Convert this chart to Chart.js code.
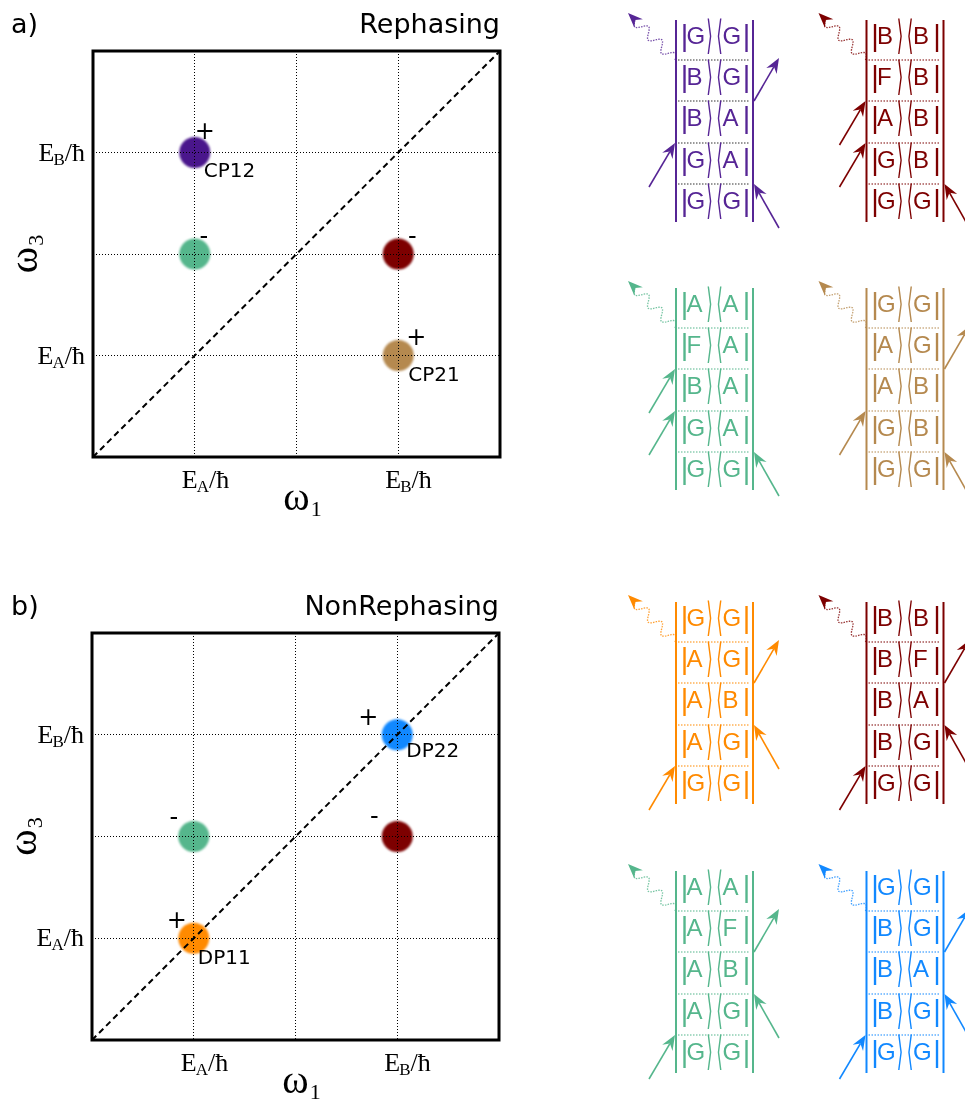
<!DOCTYPE html>
<html><head><meta charset="utf-8">
<script src="https://cdn.jsdelivr.net/npm/chart.js@4.4.1/dist/chart.umd.min.js"></script>
<style>
html,body{margin:0;padding:0;background:#fff;width:965px;height:1099px;overflow:hidden;position:relative}
#ca{position:absolute;left:0;top:0}
#cb{position:absolute;left:0;top:580px}
#diag{position:absolute;left:0;top:0}
</style></head><body>
<canvas id="ca" width="520" height="519"></canvas>
<canvas id="cb" width="520" height="519"></canvas>
<svg id="diag" width="965" height="1099" xmlns="http://www.w3.org/2000/svg"></svg>
<script>
// ---------------- DATA ----------------
const axisMin = 0, axisMax = 4;
const gridValues = [1, 2, 3];
const tickValues = [1, 3];
const tickMain = ['E', 'E'];
const tickSub = ['A', 'B'];
const tickTail = ['/ħ', '/ħ'];
const xTitle = ['ω', '1'];
const yTitle = ['ω', '3'];
const diagonalX = [0, 4];
const diagonalY = [0, 4];

const rephasingX = [1, 1, 3, 3];
const rephasingY = [3, 2, 2, 1];
const rephasingSign = ['+', '-', '-', '+'];
const rephasingName = ['CP12', '', '', 'CP21'];

const nonRephasingX = [3, 1, 3, 1];
const nonRephasingY = [3, 2, 2, 1];
const nonRephasingSign = ['+', '-', '-', '+'];
const nonRephasingName = ['DP22', '', '', 'DP11'];

// Double-sided Feynman diagrams: rows top -> bottom, [ket, bra]
const diagramStates = [
  [['G','G'],['B','G'],['B','A'],['G','A'],['G','G']],
  [['B','B'],['F','B'],['A','B'],['G','B'],['G','G']],
  [['A','A'],['F','A'],['B','A'],['G','A'],['G','G']],
  [['G','G'],['A','G'],['A','B'],['G','B'],['G','G']],
  [['G','G'],['A','G'],['A','B'],['A','G'],['G','G']],
  [['B','B'],['B','F'],['B','A'],['B','G'],['G','G']],
  [['A','A'],['A','F'],['A','B'],['A','G'],['G','G']],
  [['G','G'],['B','G'],['B','A'],['B','G'],['G','G']]
];
// interaction positions given as separator index (0..3)
const diagramLeftIn  = [[2],[1,2],[1,2],[2],[3],[3],[3],[3]];
const diagramRightOut = [[1],[],[],[1],[1],[1],[1],[1]];
const diagramRightIn  = [[3],[3],[3],[3],[2],[2],[2],[2]];

// ---------------- STYLE ----------------
const C = {purple:'#4a168c', green:'#55b68c', darkred:'#7d0000', tan:'#b5894f', orange:'#ff8a00', blue:'#1188ff'};
const rephasingColors = [C.purple, C.green, C.darkred, C.tan];
const nonRephasingColors = [C.blue, C.green, C.darkred, C.orange];
const rephasingSignOff = [[10,-22],[9,-16],[14,-16],[18,-19]];
const rephasingNameOff = [[9,24],null,null,[10,25]];
const nonRephasingSignOff = [[-29,-18],[-20,-18],[-23,-19],[-17,-19]];
const nonRephasingNameOff = [[9,22],null,null,[4,26]];
const diagramColors = ['#562595', C.darkred, C.green, C.tan, C.orange, C.darkred, C.green, C.blue];
const diagramSepColors = ['#333', C.darkred, C.green, C.tan, C.orange, C.darkred, C.green, C.blue];
const diagramX = [676, 866.5, 676, 866.5, 676, 866.5, 676, 866.5];
const diagramY = [20, 20, 288, 288, 602, 602, 871, 871];

const SERIF = '"Liberation Serif", "Times New Roman", serif';
const SANS = '"DejaVu Sans", Verdana, sans-serif';

function drawTickLabel(ctx, main, sub, tail, x, y, align) {
  ctx.font = '26px ' + SERIF;
  const w1 = ctx.measureText(main).width, w3 = ctx.measureText(tail).width;
  ctx.font = '17px ' + SERIF;
  const w2 = ctx.measureText(sub).width;
  const total = w1 + w2 + w3;
  const sx = align === 'right' ? x - total : x;
  ctx.textAlign = 'left'; ctx.textBaseline = 'alphabetic';
  ctx.font = '26px ' + SERIF; ctx.fillText(main, sx, y);
  ctx.font = '17px ' + SERIF; ctx.fillText(sub, sx + w1 - 1, y + 4);
  ctx.font = '26px ' + SERIF; ctx.fillText(tail, sx + w1 + w2 - 1, y);
}

function makePanel(id, xs, ys, colors, signs, names, signOff, nameOff, letter, title, pad) {
  const points = xs.map((x, i) => ({x: x, y: ys[i]}));
  const diag = diagonalX.map((x, i) => ({x: x, y: diagonalY[i]}));
  const panelPlugin = {
    id: 'panel' + id,
    beforeDatasetDraw(chart, args) { if (args.index === 1) { chart.ctx.save(); chart.ctx.filter = 'blur(1px)'; } },
    afterDatasetDraw(chart, args) { if (args.index === 1) chart.ctx.restore(); },
    afterDraw(chart) {
      const ctx = chart.ctx, a = chart.chartArea;
      const sx = chart.scales.x, sy = chart.scales.y;
      ctx.save();
      ctx.fillStyle = '#000';
      // box
      ctx.lineWidth = 3; ctx.strokeStyle = '#000';
      ctx.strokeRect(a.left, a.top, a.right - a.left, a.bottom - a.top);
      // letter + title
      ctx.font = '27px ' + SANS; ctx.textBaseline = 'alphabetic';
      ctx.textAlign = 'left'; ctx.fillText(letter, 11, a.top - 18);
      ctx.textAlign = 'right'; ctx.fillText(title, a.right, a.top - 18);
      // tick labels
      tickValues.forEach((v, i) => {
        drawTickLabel(ctx, tickMain[i], tickSub[i], tickTail[i], sx.getPixelForValue(v) - 13, a.bottom + 31, 'left');
        drawTickLabel(ctx, tickMain[i], tickSub[i], tickTail[i], a.left - 7, sy.getPixelForValue(v) + 8, 'right');
      });
      // x title
      ctx.font = '40px ' + SERIF; const ww = ctx.measureText(xTitle[0]).width;
      ctx.textAlign = 'left';
      const cx = (a.left + a.right) / 2;
      ctx.fillText(xTitle[0], cx - ww / 2, a.bottom + 53);
      ctx.font = '22px ' + SERIF; ctx.fillText(xTitle[1], cx + ww / 2 + 1, a.bottom + 59);
      // y title (rotated)
      ctx.save();
      ctx.translate(a.left - 56, (a.top + a.bottom) / 2 + 6);
      ctx.rotate(-Math.PI / 2);
      ctx.font = '40px ' + SERIF;
      ctx.fillText(yTitle[0], -ww / 2, 0);
      ctx.font = '22px ' + SERIF; ctx.fillText(yTitle[1], ww / 2 + 1, 6);
      ctx.restore();
      // peak annotations
      const meta = chart.getDatasetMeta(1);
      meta.data.forEach((pt, i) => {
        ctx.textAlign = 'center';
        ctx.font = '24px ' + SANS;
        const rise = signs[i] === '+' ? 8.5 : 6;
        ctx.fillText(signs[i], pt.x + signOff[i][0], pt.y + signOff[i][1] + rise);
        if (names[i]) {
          ctx.font = '20px ' + SANS;
          ctx.textAlign = 'left';
          ctx.fillText(names[i], pt.x + nameOff[i][0], pt.y + nameOff[i][1]);
        }
      });
      ctx.restore();
    }
  };
  const axisCommon = {
    type: 'linear', min: axisMin, max: axisMax,
    afterBuildTicks: s => { s.ticks = gridValues.map(v => ({value: v})); },
    ticks: {display: false},
    grid: {color: '#000', lineWidth: 1, drawTicks: false, z: 1},
    border: {display: false, dash: [1, 2]}
  };
  new Chart(document.getElementById(id), {
    type: 'scatter',
    data: {datasets: [
      {type: 'line', data: diag, borderColor: '#000', borderWidth: 2, borderDash: [6, 4], pointRadius: 0, fill: false, order: 0},
      {data: points, backgroundColor: colors, borderWidth: 0, pointRadius: 15.5, pointHoverRadius: 15.5, order: 1}
    ]},
    options: {
      responsive: false, animation: false, devicePixelRatio: 1, events: [],
      layout: {padding: pad},
      plugins: {legend: {display: false}, tooltip: {enabled: false}},
      scales: {
        x: Object.assign({}, axisCommon, {afterFit: s => { s.height = 0; }}),
        y: Object.assign({}, axisCommon, {afterFit: s => { s.width = 0; }})
      }
    },
    plugins: [panelPlugin]
  });
}

makePanel('ca', rephasingX, rephasingY, rephasingColors, rephasingSign, rephasingName,
  rephasingSignOff, rephasingNameOff, 'a)', 'Rephasing', {left: 93, right: 20, top: 51, bottom: 62});
makePanel('cb', nonRephasingX, nonRephasingY, nonRephasingColors, nonRephasingSign, nonRephasingName,
  nonRephasingSignOff, nonRephasingNameOff, 'b)', 'NonRephasing', {left: 92, right: 21, top: 53, bottom: 59});

// ---------------- DIAGRAMS (SVG) ----------------
const NS = 'http://www.w3.org/2000/svg';
const svg = document.getElementById('diag');
function el(tag, attrs, text) {
  const e = document.createElementNS(NS, tag);
  for (const k in attrs) e.setAttribute(k, attrs[k]);
  if (text != null) e.textContent = text;
  svg.appendChild(e); return e;
}
function arrowHead(x, y, ang, color) {
  el('path', {d: 'M0,0 L-15,-6 L-10,0 L-15,6 Z', fill: color,
    transform: 'translate(' + x + ',' + y + ') rotate(' + (ang * 180 / Math.PI) + ')'});
}
function arrow(x1, y1, x2, y2, color) {
  const ang = Math.atan2(y2 - y1, x2 - x1);
  el('line', {x1: x1, y1: y1, x2: x2 - 10 * Math.cos(ang), y2: y2 - 10 * Math.sin(ang), stroke: color, 'stroke-width': 1.6});
  arrowHead(x2, y2, ang, color);
}
function wavy(x1, y1, x2, y2, color) {
  const dx = x2 - x1, dy = y2 - y1, len = Math.hypot(dx, dy);
  const ux = dx / len, uy = dy / len, px = -uy, py = ux;
  const wl = len - 10; let d = '';
  for (let i = 0; i <= 80; i++) {
    const t = i / 80, s = t * wl, amp = 5 * Math.sin(t * 2 * Math.PI * 3);
    d += (i ? 'L' : 'M') + (x1 + ux * s + px * amp).toFixed(2) + ',' + (y1 + uy * s + py * amp).toFixed(2);
  }
  el('path', {d: d, fill: 'none', stroke: color, 'stroke-width': 1.3, 'stroke-dasharray': '1.5,1.2', opacity: 0.8});
  arrowHead(x2, y2, Math.atan2(dy, dx), color);
}
const sepRel = [40, 81, 123, 164];
const rowRel = [15.5, 56.5, 97.5, 139.5, 180.5];
const FONT = '"Liberation Sans", Arial, sans-serif';
diagramStates.forEach((rows, k) => {
  const x0 = diagramX[k], y0 = diagramY[k], col = diagramColors[k];
  el('line', {x1: x0, y1: y0, x2: x0, y2: y0 + 202, stroke: col, 'stroke-width': 2});
  el('line', {x1: x0 + 77, y1: y0, x2: x0 + 77, y2: y0 + 202, stroke: col, 'stroke-width': 2});
  sepRel.forEach(s => el('line', {x1: x0 + 2, y1: y0 + s, x2: x0 + 74, y2: y0 + s,
    stroke: diagramSepColors[k], 'stroke-width': 1.2, 'stroke-dasharray': '1.5,1.5'}));
  rows.forEach((r, j) => {
    const base = y0 + rowRel[j] + 8.5;
    const tAttrs = {fill: col, 'font-family': FONT, 'font-size': '24px'};
    el('text', {x: x0 + 8.5, y: base + 2, 'text-anchor': 'middle', 'font-size': '29px', fill: col, 'font-family': FONT}, '|');
    el('text', Object.assign({x: x0 + 10.5, y: base}, tAttrs), r[0]);
    el('text', {fill: col, 'font-family': '"DejaVu Sans", sans-serif', 'font-size': '40px', 'text-anchor': 'middle',
      transform: 'translate(' + (x0 + 33.5) + ',' + (base + 5) + ') scale(0.42,1)'}, '⟩');
    el('text', {fill: col, 'font-family': '"DejaVu Sans", sans-serif', 'font-size': '40px', 'text-anchor': 'middle',
      transform: 'translate(' + (x0 + 43.5) + ',' + (base + 5) + ') scale(0.42,1)'}, '⟨');
    el('text', Object.assign({x: x0 + 46.5, y: base}, tAttrs), r[1]);
    el('text', {x: x0 + 70.5, y: base + 2, 'text-anchor': 'middle', 'font-size': '29px', fill: col, 'font-family': FONT}, '|');
  });
  wavy(x0 - 1, y0 + 40, x0 - 48, y0 - 7, col);
  diagramLeftIn[k].forEach(s => arrow(x0 - 27, y0 + sepRel[s] + 44, x0 - 1, y0 + sepRel[s], col));
  diagramRightOut[k].forEach(s => arrow(x0 + 78, y0 + sepRel[s], x0 + 103, y0 + sepRel[s] - 43, col));
  diagramRightIn[k].forEach(s => arrow(x0 + 103, y0 + sepRel[s] + 44, x0 + 78, y0 + sepRel[s], col));
});
</script>
</body></html>
